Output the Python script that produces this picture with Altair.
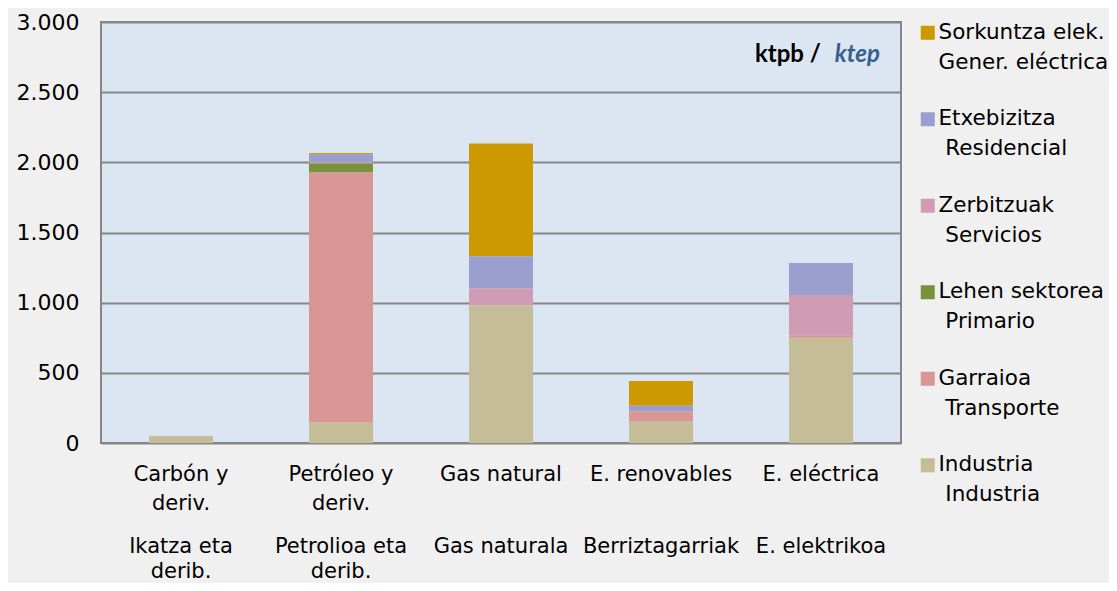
import altair as alt
import pandas as pd

# Categories (Spanish labels on first axis, Basque labels on second)
categories_es = ["Carbón y|deriv.", "Petróleo y|deriv.", "Gas natural", "E. renovables", "E. eléctrica"]
categories_eu = ["Ikatza eta|derib.", "Petrolioa eta|derib.", "Gas naturala", "Berriztagarriak", "E. elektrikoa"]

# Sectors (legend order, top to bottom)
IND = "\u200b "
sectors = ["Sorkuntza elek.|Gener. eléctrica", "Etxebizitza|" + IND + "Residencial", "Zerbitzuak|" + IND + "Servicios",
           "Lehen sektorea|" + IND + "Primario", "Garraioa|" + IND + "Transporte", "Industria|" + IND + "Industria"]
colors = ["#cc9900", "#9a9fd0", "#cf9bb5", "#77933c", "#d99694", "#c4bd97"]

# Values (ktep) per sector, in category order
gener = [0, 9, 805, 176, 0]
residencial = [0, 55, 228, 40, 228]
servicios = [0, 12, 122, 0, 287]
primario = [0, 64, 0, 0, 0]
transporte = [0, 1777, 0, 69, 18]
industria = [50, 150, 980, 157, 750]

series = [gener, residencial, servicios, primario, transporte, industria]
rows = []
for s_i, (sec, vals) in enumerate(zip(sectors, series)):
    for c, v in zip(categories_es, vals):
        rows.append({"cat": c, "sector": sec, "value": v, "stack": len(sectors) - 1 - s_i})
df = pd.DataFrame(rows)

FONT = "DejaVu Sans"

xscale = alt.Scale(domain=categories_es, paddingInner=0.6, paddingOuter=0.3)
yscale = alt.Scale(domain=[0, 3000])

bars = alt.Chart(df).mark_bar().encode(
    x=alt.X("cat:N", scale=xscale, sort=categories_es, title=None,
            axis=alt.Axis(orient="bottom", labelExpr="split(datum.label, '|')", labelAngle=0,
                          labelBaseline="top", labelPadding=20, labelLineHeight=29,
                          labelFont=FONT, labelFontSize=21, labelColor="#000000",
                          ticks=False, tickSize=0, domain=False, labelLimit=300)),
    y=alt.Y("value:Q", scale=yscale, stack="zero", title=None,
            axis=alt.Axis(values=[0, 500, 1000, 1500, 2000, 2500, 3000],
                          labelExpr="replace(format(datum.value, ','), ',', '.')",
                          labelFont=FONT, labelFontSize=22, labelColor="#000000",
                          labelPadding=22, ticks=False, domain=False,
                          grid=True, gridColor="#868686", gridWidth=2)),
    color=alt.Color("sector:N", scale=alt.Scale(domain=sectors, range=colors),
                    legend=alt.Legend(title=None, orient="none", legendX=816, legendY=0,
                                      labelExpr="split(datum.label, '|')",
                                      labelFont=FONT, labelFontSize=21.5, labelColor="#000000",
                                      labelBaseline="middle",
                                      labelLimit=300, labelOffset=0,
                                      symbolType="square", symbolSize=196,
                                      symbolStrokeWidth=0, rowPadding=33.5)),
    order=alt.Order("stack:Q", sort="ascending"),
)

eu_expr = "split(" + str(categories_eu) + "[indexof(" + str(categories_es) + ", datum.label)], '|')"

ghost = alt.Chart(df).mark_point(opacity=0).encode(
    x=alt.X("cat:N", scale=xscale, sort=categories_es, title=None,
            axis=alt.Axis(orient="bottom", labelExpr=eu_expr, labelAngle=0,
                          labelBaseline="top", labelPadding=92, labelLineHeight=25,
                          labelFont=FONT, labelFontSize=21, labelColor="#000000",
                          ticks=False, tickSize=0, domain=False, labelLimit=300)),
    y=alt.value(0),
)

unit1 = alt.Chart(pd.DataFrame({"t": ["ktpb /"]})).mark_text(
    font="Lato", fontSize=24, fontWeight="bold", color="#000000", align="right", baseline="alphabetic"
).encode(text="t:N", x=alt.value(720), y=alt.value(40))

unit2 = alt.Chart(pd.DataFrame({"t": ["ktep"]})).mark_text(
    font="Lato", fontSize=24, fontWeight="bold", fontStyle="italic", color="#376092",
    align="right", baseline="alphabetic"
).encode(text="t:N", x=alt.value(779), y=alt.value(40))

chart = alt.layer(bars, ghost, unit1, unit2).resolve_axis(x="independent").properties(
    width=800, height=421,
    padding={"left": 93, "top": 14, "right": 208, "bottom": 140},
    autosize="none",
).configure(
    background="#f0f0f0",
    style={"guide-label": {"lineHeight": 30}},
).configure_view(
    fill="#dce6f2", stroke="#868686", strokeWidth=2
)

chart.save("out.html", embed_options={"renderer": "svg", "actions": False})
